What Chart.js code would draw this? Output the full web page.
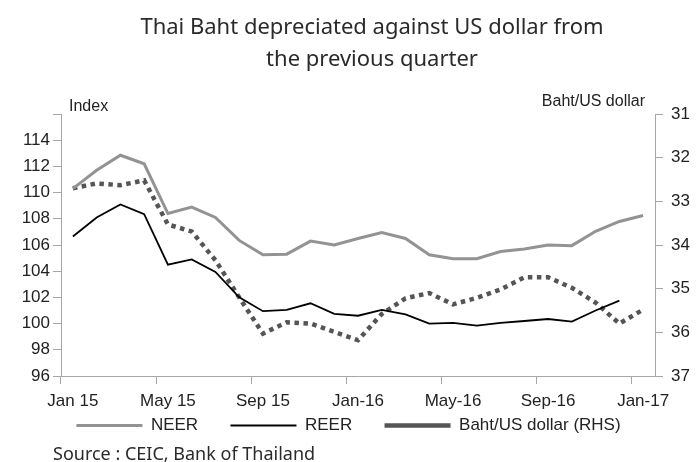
<!DOCTYPE html>
<html>
<head>
<meta charset="utf-8">
<script src="https://cdn.jsdelivr.net/npm/chart.js@4"></script>
<style>
  body { margin: 0; background: #fff; }
  #wrap { width: 697px; height: 462px; }
</style>
</head>
<body>
<div id="wrap"><canvas id="lineChart"></canvas></div>
<script>
// monthly series, Jan 2015 - Jan 2017
const months = ['Jan 15', 'Feb 15', 'Mar 15', 'Apr 15', 'May 15', 'Jun 15', 'Jul 15', 'Aug 15',
  'Sep 15', 'Oct 15', 'Nov 15', 'Dec 15', 'Jan-16', 'Feb-16', 'Mar-16', 'Apr-16', 'May-16',
  'Jun-16', 'Jul-16', 'Aug-16', 'Sep-16', 'Oct-16', 'Nov-16', 'Dec-16', 'Jan-17'];

const neer = [110.3, 111.7, 112.85, 112.2, 108.4, 108.9, 108.1, 106.35, 105.25, 105.3, 106.3, 106.0,
  106.5, 106.95, 106.5, 105.25, 104.95, 104.95, 105.5, 105.7, 106.0, 105.95, 107.05, 107.8, 108.25];

const reer = [106.65, 108.1, 109.1, 108.35, 104.5, 104.9, 103.95, 102.0, 100.95, 101.05, 101.55, 100.75,
  100.6, 101.05, 100.7, 100.0, 100.05, 99.85, 100.05, 100.2, 100.35, 100.15, 101.0, 101.75, null];

// Baht per US dollar, plotted on the reversed right axis
const bahtUsd = [32.7, 32.59, 32.63, 32.52, 33.53, 33.69, 34.35, 35.2, 36.03, 35.77, 35.8, 35.99,
  36.18, 35.58, 35.22, 35.1, 35.36, 35.21, 35.02, 34.74, 34.74, 34.98, 35.32, 35.8, 35.48];

const titleLines = ['Thai Baht depreciated against US dollar from', 'the previous quarter'];
const sourceNote = 'Source : CEIC, Bank of Thailand';

const axisGrey = '#a6a6a6';
const tickFont = { family: '"Liberation Sans", Arial, sans-serif', size: 17 };

// title, axis captions above the two value axes, and the source line
const extraText = {
  id: 'extraText',
  afterDraw(chart) {
    const ctx = chart.ctx;
    const area = chart.chartArea;
    ctx.save();
    ctx.textBaseline = 'middle';

    ctx.fillStyle = '#2a2a2a';
    ctx.textAlign = 'center';
    ctx.font = '22px "Noto Sans", sans-serif';
    titleLines.forEach((line, i) => ctx.fillText(line, 372, 28 + i * 32));

    ctx.fillStyle = '#222';
    ctx.font = '16px "Liberation Sans", Arial, sans-serif';
    ctx.textAlign = 'left';
    ctx.fillText('Index', area.left + 8, area.top - 7);
    ctx.textAlign = 'right';
    ctx.fillText('Baht/US dollar', area.right - 10, area.top - 12);

    ctx.fillStyle = '#2a2a2a';
    ctx.textAlign = 'left';
    ctx.font = '18px "Noto Sans", sans-serif';
    ctx.fillText(sourceNote, 53, 455);
    ctx.restore();
  }
};

const ctx = document.getElementById('lineChart').getContext('2d');
const myChart = new Chart(ctx, {
  type: 'line',
  data: {
    labels: months,
    datasets: [{
      label: 'NEER',
      data: neer,
      borderColor: '#939393',
      backgroundColor: '#939393',
      borderWidth: 3,
      yAxisID: 'y'
    }, {
      label: 'REER',
      data: reer,
      borderColor: '#000000',
      backgroundColor: '#000000',
      borderWidth: 1.8,
      yAxisID: 'y'
    }, {
      label: 'Baht/US dollar (RHS)',
      data: bahtUsd,
      borderColor: '#555555',
      backgroundColor: '#555555',
      borderWidth: 4.5,
      borderDash: [4.5, 4.5],
      yAxisID: 'y1'
    }]
  },
  options: {
    responsive: true,
    maintainAspectRatio: false,
    animation: false,
    elements: {
      point: { radius: 0 },
      line: { tension: 0 }
    },
    layout: { padding: { left: 0, right: 0, top: 114, bottom: 18 } },
    scales: {
      x: {
        offset: true,
        grid: {
          offset: true,
          drawOnChartArea: false,
          tickLength: 8,
          color: c => (c.index % 4 === 0 ? axisGrey : 'transparent')
        },
        border: { color: axisGrey },
        ticks: {
          autoSkip: false,
          maxRotation: 0,
          padding: 7,
          color: '#222',
          font: tickFont,
          callback: function(value, index) {
            return index % 4 === 0 ? this.getLabelForValue(value) : '';
          }
        },
        afterFit: scale => { scale.height = 37; }
      },
      y: {
        position: 'left',
        min: 96,
        max: 116,
        grid: { drawOnChartArea: false, tickLength: 8, color: axisGrey },
        border: { color: axisGrey },
        ticks: {
          stepSize: 2,
          padding: 3,
          color: '#222',
          font: tickFont,
          callback: v => (v === 116 ? '' : v)
        },
        afterFit: scale => { scale.width = 61; }
      },
      y1: {
        position: 'right',
        reverse: true,
        min: 31,
        max: 37,
        grid: { drawOnChartArea: false, tickLength: 8, color: axisGrey },
        border: { color: axisGrey },
        ticks: { stepSize: 1, padding: 8, color: '#222', font: tickFont },
        afterFit: scale => { scale.width = 42; }
      }
    },
    plugins: {
      legend: {
        position: 'bottom',
        labels: {
          usePointStyle: true,
          pointStyle: 'line',
          pointStyleWidth: 66,
          boxHeight: 10,
          padding: 4,
          color: '#222',
          font: tickFont,
          // trailing spaces widen the gap between legend entries
          generateLabels: chart => {
            const items = Chart.defaults.plugins.legend.labels.generateLabels(chart);
            items.forEach((item, i) => {
              if (i < items.length - 1) item.text += '      ';
            });
            return items;
          }
        }
      },
      tooltip: { enabled: false }
    }
  },
  plugins: [extraText]
});
</script>
</body>
</html>
